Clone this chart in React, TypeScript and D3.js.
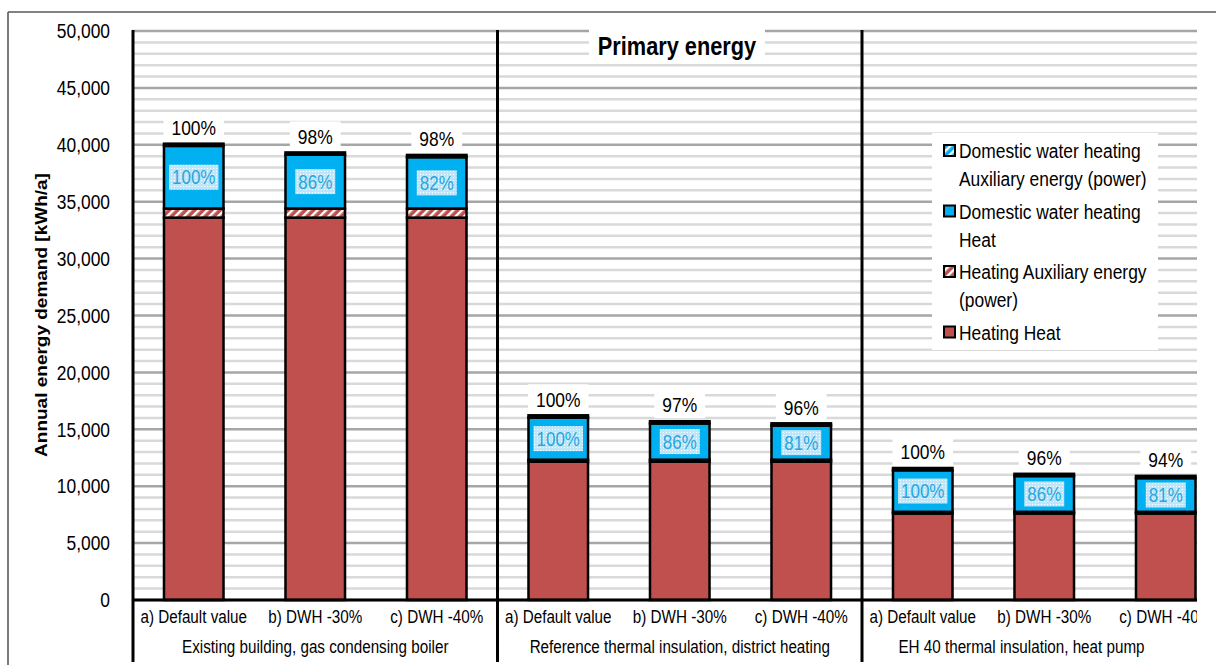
import React from "react";
import * as d3 from "d3";

// Building scenarios (outer axis level) and DWH variants (inner axis level)
const groups = [
  "Existing building, gas condensing boiler",
  "Reference thermal insulation, district heating",
  "EH 40 thermal insulation, heat pump",
];
const variants = ["a) Default value", "b) DWH -30%", "c) DWH -40%"];

// Primary energy per bar in kWh/a, ordered scenario by scenario
const heatingHeat = [33600, 33600, 33600, 12150, 12150, 12150, 7600, 7600, 7600];
const heatingAux = [800, 800, 800, 180, 180, 180, 150, 150, 150];
const dwhHeat = [5500, 4730, 4510, 3700, 3182, 2997, 3650, 3139, 2957];
const dwhAux = [200, 200, 200, 200, 200, 200, 200, 200, 200];

const yTicks = [0, 5000, 10000, 15000, 20000, 25000, 30000, 35000, 40000, 45000, 50000];

const legendItems = [
  { key: "dwhAux", lines: ["Domestic water heating", "Auxiliary energy (power)"] },
  { key: "dwhHeat", lines: ["Domestic water heating", "Heat"] },
  { key: "heatAux", lines: ["Heating Auxiliary energy", "(power)"] },
  { key: "heatHeat", lines: ["Heating Heat"] },
];

const W = 1216;
const H = 665;
const plotLeft = 133;
const plotTop = 31;
const plotBottom = 600;
const visibleRight = 1197;
const step = 121.5;
const SX = 0.87;
const FONT = "'Liberation Sans', Arial, sans-serif";

const fills: Record<string, string> = {
  heatHeat: "#c0504d",
  heatAux: "url(#hatchRed)",
  dwhHeat: "#00b0f0",
  dwhAux: "url(#hatchBlue)",
};

function Txt(props: {
  x: number;
  y: number;
  size: number;
  anchor?: string;
  weight?: string;
  fill?: string;
  rotate?: number;
  dy?: string;
  children: React.ReactNode;
}) {
  const { x, y, size, anchor = "start", weight = "normal", fill = "#000", rotate = 0, dy, children } = props;
  return (
    <text
      transform={`translate(${x},${y}) scale(${SX},1)${rotate ? ` rotate(${rotate})` : ""}`}
      fontSize={size}
      textAnchor={anchor}
      fontWeight={weight}
      fill={fill}
      fontFamily={FONT}
      dy={dy}
    >
      {children}
    </text>
  );
}

// approximate advance width of a percentage label (digits + %)
function pctWidth(s: string, size: number) {
  let em = 0;
  for (const c of s) em += c === "%" ? 0.889 : 0.556;
  return em * size * SX;
}

export default function App() {
  const keys = d3.range(9).map(String);
  const x = d3
    .scaleBand<string>()
    .domain(keys)
    .range([plotLeft, plotLeft + 9 * step])
    .paddingInner(0.51)
    .paddingOuter(0.255);
  const y = d3.scaleLinear().domain([0, 50000]).range([plotBottom, plotTop]);

  const minorTicks = d3.range(0, 50001, 1000);

  const bars = keys.map((k, i) => {
    const g = Math.floor(i / 3);
    const base = g * 3;
    const series = [
      { key: "heatHeat", v: heatingHeat[i] },
      { key: "heatAux", v: heatingAux[i] },
      { key: "dwhHeat", v: dwhHeat[i] },
      { key: "dwhAux", v: dwhAux[i] },
    ];
    let acc = 0;
    const segs = series.map((s) => {
      const y0 = acc;
      acc += s.v;
      return { ...s, y0, y1: acc };
    });
    const total = acc;
    const baseTotal = heatingHeat[base] + heatingAux[base] + dwhHeat[base] + dwhAux[base];
    return {
      k,
      i,
      g,
      segs,
      total,
      totalLabel: `${Math.round((total / baseTotal) * 100)}%`,
      dwhLabel: `${Math.round((dwhHeat[i] / dwhHeat[base]) * 100)}%`,
    };
  });

  const bw = x.bandwidth();

  return (
    <svg width={W} height={H} style={{ position: "absolute", left: 0, top: 0, background: "#fff" }}>
      <defs>
        <pattern id="hatchRed" patternUnits="userSpaceOnUse" width="6" height="6" patternTransform="rotate(45)">
          <rect width="6" height="6" fill="#c0504d" />
          <rect width="2.4" height="6" fill="#ffffff" />
        </pattern>
        <pattern id="hatchBlue" patternUnits="userSpaceOnUse" width="6" height="6" patternTransform="rotate(45)">
          <rect width="6" height="6" fill="#00b0f0" />
          <rect width="2.4" height="6" fill="#ffffff" />
        </pattern>
        <pattern id="dots" patternUnits="userSpaceOnUse" width="3" height="3">
          <rect width="3" height="3" fill="#bfe6f8" />
          <rect width="1" height="1" fill="#ffffff" />
        </pattern>
        <clipPath id="plotClip">
          <rect x={0} y={0} width={visibleRight} height={H} />
        </clipPath>
      </defs>

      {/* outer chart frame */}
      <line x1={8} x2={W} y1={12} y2={12} stroke="#595959" strokeWidth={1.6} />
      <line x1={8} x2={8} y1={12} y2={H} stroke="#595959" strokeWidth={1.6} />

      <g clipPath="url(#plotClip)">
        {/* gridlines */}
        {minorTicks.map((t) => (
          <line
            key={t}
            x1={plotLeft}
            x2={plotLeft + 9 * step}
            y1={y(t)}
            y2={y(t)}
            stroke={t % 5000 === 0 ? "#a6a6a6" : "#d9d9d9"}
            strokeWidth={2.5}
          />
        ))}

        {/* stacked bars */}
        {bars.map((b) => (
          <g key={b.k}>
            {b.segs.map((s) => (
              <rect
                key={s.key}
                x={x(b.k)}
                y={y(s.y1)}
                width={bw}
                height={y(s.y0) - y(s.y1)}
                fill={fills[s.key]}
                stroke="#000"
                strokeWidth={2.5}
              />
            ))}
          </g>
        ))}

        {/* DWH heat share labels */}
        {bars.map((b) => {
          const seg = b.segs[2];
          const cy = (y(seg.y0) + y(seg.y1)) / 2;
          const cx = (x(b.k) as number) + bw / 2;
          const tw = pctWidth(b.dwhLabel, 19.5) + 6;
          return (
            <g key={"d" + b.k}>
              <rect x={cx - tw / 2} y={cy - 12.5} width={tw} height={25} fill="url(#dots)" />
              <Txt x={cx} y={cy} size={19.5} anchor="middle" fill="#27a6e0" dy="0.36em">
                {b.dwhLabel}
              </Txt>
            </g>
          );
        })}

        {/* total labels relative to default variant */}
        {bars.map((b) => {
          const top = y(b.total);
          const cx = (x(b.k) as number) + bw / 2;
          const tw = pctWidth(b.totalLabel, 20) + 16;
          return (
            <g key={"t" + b.k}>
              <rect x={cx - tw / 2} y={top - 31} width={tw} height={28} fill="#fff" />
              <Txt x={cx} y={top - 16} size={20} anchor="middle" dy="0.36em">
                {b.totalLabel}
              </Txt>
            </g>
          );
        })}

        {/* category axis */}
        <line x1={plotLeft} x2={plotLeft + 9 * step} y1={plotBottom} y2={plotBottom} stroke="#000" strokeWidth={3} />
        {bars.map((b) => (
          <Txt key={"c" + b.k} x={(x(b.k) as number) + bw / 2} y={623} size={17.5} anchor="middle">
            {variants[b.i % 3]}
          </Txt>
        ))}
        {groups.map((gName, g) => {
          const x0 = plotLeft + g * 3 * step;
          const x1 = Math.min(plotLeft + (g + 1) * 3 * step, visibleRight);
          return (
            <Txt key={gName} x={(x0 + x1) / 2 - (x1 < plotLeft + (g + 1) * 3 * step ? 8 : 0)} y={653} size={17.5} anchor="middle">
              {gName}
            </Txt>
          );
        })}

        {/* scenario separators and value axis line */}
        {[0, 1, 2].map((g) => (
          <line
            key={g}
            x1={plotLeft + g * 3 * step}
            x2={plotLeft + g * 3 * step}
            y1={plotTop - 1}
            y2={662}
            stroke="#000"
            strokeWidth={3}
          />
        ))}
      </g>

      {/* value axis tick labels */}
      {yTicks.map((t) => (
        <Txt key={t} x={110} y={y(t)} size={20} anchor="end" dy="0.36em">
          {d3.format(",")(t)}
        </Txt>
      ))}
      <Txt x={41} y={315} size={19} anchor="middle" weight="bold" rotate={-90} dy="0.35em">
        Annual energy demand [kWh/a]
      </Txt>

      {/* chart title */}
      <rect x={589} y={29} width={176} height={34} fill="#fff" />
      <Txt x={677} y={46} size={25} anchor="middle" weight="bold" dy="0.35em">
        Primary energy
      </Txt>

      {/* legend */}
      <rect x={932} y={133} width={226} height={217} fill="#fff" />
      {legendItems.map((item, idx) => {
        const base = 158 + idx * 60.5;
        return (
          <g key={item.key}>
            <rect x={944} y={base - 13} width={11} height={11} fill={fills[item.key]} stroke="#000" strokeWidth={2} />
            {item.lines.map((ln, j) => (
              <Txt key={j} x={959} y={base + j * 28} size={20}>
                {ln}
              </Txt>
            ))}
          </g>
        );
      })}
    </svg>
  );
}
